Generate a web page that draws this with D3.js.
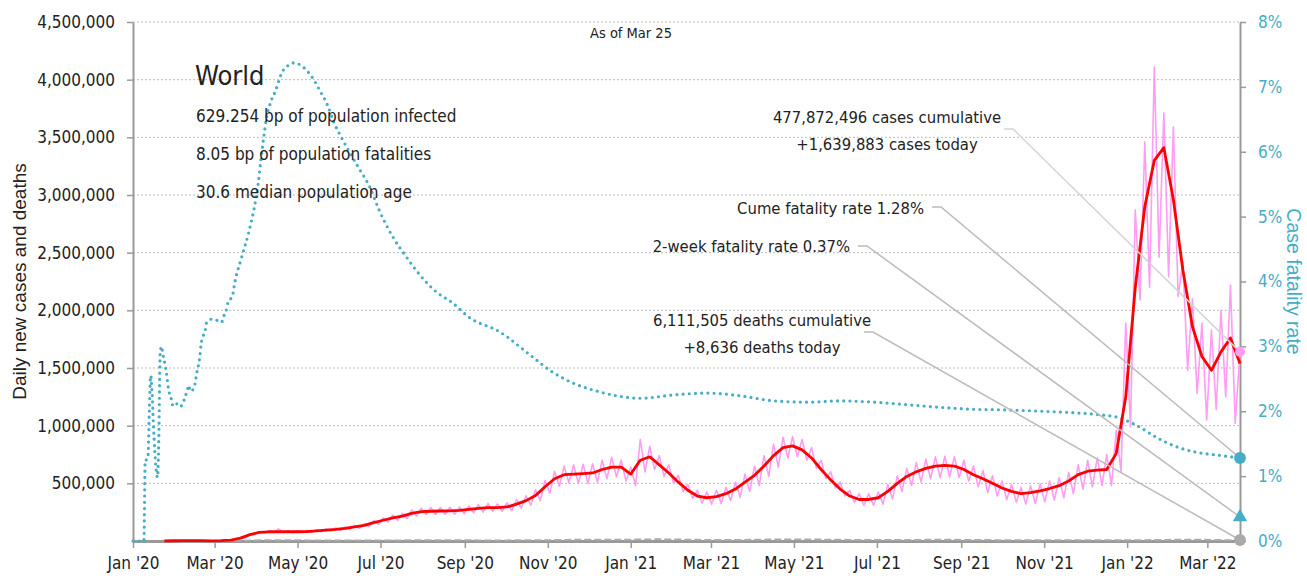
<!DOCTYPE html>
<html>
<head>
<meta charset="utf-8">
<script src="https://cdn.jsdelivr.net/npm/d3@7"></script>
<style>
  html, body { margin: 0; padding: 0; overflow: hidden; background: #fff; }
  svg { display: block; }
</style>
</head>
<body>
<div id="chart"></div>
<script>
// weekly series start on this Friday, one value every 7 days (thousands)
const weekStart = "2020-01-24";

// 7-day average of new cases
const casesAvg = [
  0.5, 2, 3, 3, 3, 1.5, 2.5, 8, 25, 55,
  75, 80, 82, 80, 80, 82, 88, 95, 100, 110,
  122, 135, 160, 180, 200, 215, 240, 255, 258, 260,
  262, 265, 275, 282, 290, 290, 295, 320, 350, 395,
  470, 540, 575, 580, 585, 590, 620, 640, 640, 580,
  700, 730, 660, 590, 510, 440, 390, 375, 385, 410,
  450, 510, 570, 650, 740, 810, 825, 790, 720, 620,
  530, 450, 390, 360, 360, 375, 430, 500, 560, 600,
  630, 650, 655, 650, 620, 575, 540, 500, 460, 430,
  410, 420, 435, 455, 480, 520, 575, 605, 615, 620,
  760, 1250, 2200, 2900, 3300, 3410, 2960, 2350, 1860, 1600,
  1480, 1640, 1760, 1540
];

// daily new cases: mid-week highs (same days as above) and weekend lows (3.5 days later)
const casesPeak = [
  0.6, 2.5, 3.5, 3, 2, 2, 3, 10, 30, 62,
  82, 88, 105, 88, 88, 92, 98, 105, 112, 122,
  135, 150, 178, 200, 225, 240, 270, 285, 290, 290,
  292, 295, 305, 315, 325, 322, 330, 360, 392, 445,
  525, 605, 650, 660, 665, 670, 700, 725, 700, 640,
  880, 820, 740, 660, 570, 490, 440, 425, 440, 465,
  510, 580, 650, 740, 840, 900, 905, 880, 810, 700,
  600, 510, 440, 410, 410, 425, 490, 565, 630, 680,
  710, 730, 735, 730, 700, 650, 610, 565, 520, 490,
  465, 478, 495, 520, 550, 595, 660, 700, 720, 750,
  960, 1890, 2870, 3460, 4110, 3710, 3590, 2420, 2100, 1890,
  1830, 2000, 2220, 1640
];
const casesTrough = [
  0.5, 2, 3, 2.5, 1.5, 1.5, 3, 10, 28, 60,
  72, 72, 75, 72, 75, 75, 80, 88, 92, 100,
  110, 125, 145, 165, 180, 195, 215, 230, 230, 232,
  232, 235, 245, 250, 258, 258, 262, 285, 310, 350,
  415, 475, 505, 500, 500, 510, 540, 555, 520, 480,
  600, 620, 560, 500, 430, 370, 330, 320, 325, 350,
  380, 430, 480, 560, 640, 720, 730, 700, 630, 540,
  460, 390, 335, 310, 310, 320, 365, 430, 480, 510,
  540, 550, 555, 550, 520, 470, 420, 390, 360, 335,
  320, 325, 340, 355, 375, 410, 450, 470, 480, 480,
  600, 990, 2090, 2200, 2460, 2290, 2120, 1480, 1280, 1050,
  1140, 1250, 1020
];

// 7-day average of new deaths
const deathsAvg = [
  0.03, 0.05, 0.08, 0.1, 0.1, 0.08, 0.1, 0.4, 1.2, 3.5,
  5.5, 6.5, 7.2, 6.8, 5.8, 5.3, 4.8, 4.6, 4.5, 4.5,
  4.8, 4.6, 4.8, 5.0, 5.3, 5.4, 5.8, 6.0, 5.9, 5.9,
  5.8, 5.6, 5.5, 5.4, 5.3, 5.3, 5.4, 5.5, 5.6, 6.0,
  6.8, 8.0, 9.2, 10.0, 10.5, 11.0, 11.5, 11.8, 11.5, 11.6,
  13.0, 14.0, 14.3, 13.5, 12.5, 11.2, 10.0, 9.3, 8.8, 8.7,
  9.0, 9.6, 10.5, 11.5, 12.5, 13.2, 13.6, 13.4, 12.8, 12.0,
  11.0, 10.2, 9.6, 8.6, 8.0, 7.8, 7.8, 8.0, 8.5, 9.2,
  9.8, 10.1, 10.2, 9.9, 9.3, 8.7, 8.2, 7.6, 7.2, 7.0,
  7.0, 7.1, 7.2, 7.1, 7.0, 7.0, 7.2, 7.2, 7.0, 6.8,
  6.5, 6.3, 6.5, 7.0, 8.0, 9.2, 10.3, 11.2, 11.0, 10.2,
  9.0, 7.8, 7.2, 8.6
];

// cumulative case fatality rate, percent
const cfrDates = [
  "2020-01-01", "2020-01-09", "2020-01-10", "2020-01-11", "2020-01-12", "2020-01-13",
  "2020-01-14", "2020-01-15", "2020-01-16", "2020-01-17", "2020-01-18", "2020-01-19",
  "2020-01-20", "2020-01-21", "2020-01-22", "2020-01-23", "2020-01-25", "2020-01-26",
  "2020-01-27", "2020-01-29", "2020-01-30", "2020-02-01", "2020-02-04", "2020-02-06",
  "2020-02-08", "2020-02-10", "2020-02-11", "2020-02-12", "2020-02-15", "2020-02-16",
  "2020-02-17", "2020-02-19", "2020-02-20", "2020-02-21", "2020-02-23", "2020-02-24",
  "2020-02-28", "2020-03-03", "2020-03-06", "2020-03-08", "2020-03-10", "2020-03-11",
  "2020-03-14", "2020-03-16", "2020-03-21", "2020-03-26", "2020-03-30", "2020-04-02",
  "2020-04-04", "2020-04-06", "2020-04-08", "2020-04-11", "2020-04-15", "2020-04-19",
  "2020-04-24", "2020-04-28", "2020-05-02", "2020-05-06", "2020-05-12", "2020-05-18",
  "2020-05-23", "2020-05-28", "2020-06-02", "2020-06-08", "2020-06-15", "2020-06-23",
  "2020-06-30", "2020-07-10", "2020-07-20", "2020-07-30", "2020-08-11", "2020-08-23",
  "2020-09-04", "2020-09-27", "2020-10-20", "2020-11-04", "2020-11-19", "2020-12-09",
  "2020-12-24", "2021-01-08", "2021-02-01", "2021-02-26", "2021-03-22", "2021-04-16",
  "2021-05-11", "2021-06-04", "2021-06-29", "2021-07-24", "2021-08-17", "2021-09-10",
  "2021-10-05", "2021-10-30", "2021-11-20", "2021-12-10", "2021-12-26", "2022-01-09",
  "2022-01-24", "2022-02-08", "2022-02-23", "2022-03-10", "2022-03-25"
];
const cfrValues = [
  0, 0, 1.25, 1.25, 1.3, 2.0,
  2.55, 2.3, 1.8, 1.4, 1.1, 0.98,
  1.6, 2.9, 3.0, 2.88, 2.67, 2.53,
  2.35, 2.2, 2.1, 2.14, 2.07, 2.09,
  2.2, 2.33, 2.4, 2.31, 2.36, 2.48,
  2.6, 2.82, 3.02, 3.13, 3.23, 3.36,
  3.42, 3.40, 3.37, 3.48, 3.59, 3.69,
  3.77, 4.0, 4.38, 4.75, 5.12, 5.5,
  5.87, 6.2, 6.5, 6.75, 6.95, 7.2,
  7.33, 7.37, 7.35, 7.29, 7.14, 6.92,
  6.72, 6.44, 6.23, 6.0, 5.75, 5.46,
  5.1, 4.69, 4.38, 4.1, 3.84, 3.67,
  3.45, 3.22, 2.85, 2.61, 2.44, 2.30,
  2.23, 2.20, 2.25, 2.28, 2.24, 2.16,
  2.14, 2.16, 2.14, 2.10, 2.06, 2.03,
  2.02, 2.0, 1.98, 1.95, 1.90, 1.77,
  1.58, 1.44, 1.36, 1.32, 1.28
];

// latest figures
const asOf = "2022-03-25";
const casesToday = 1639883;
const casesCumulative = 477872496;
const deathsToday = 8636;
const deathsCumulative = 6111505;
const cumeFatalityRate = 1.28;
const twoWeekFatalityRate = 0.37;
const infoLines = [
  "629.254 bp of population infected",
  "8.05 bp of population fatalities",
  "30.6 median population age"
];

const colors = {
  text: "#222222",
  daily: "#ff9cf4",
  avg: "#ff0000",
  cfr: "#45adc6",
  deaths: "#aaaaaa",
  axis: "#999999",
  grid: "#bdbdbd",
  leader: "#bbbbbb"
};
const condensed = "DejaVu Sans Condensed, sans-serif";
const regular = "Liberation Sans, Arial, sans-serif";

const width = 1307, height = 580;
const margin = { top: 22, right: 67, bottom: 39, left: 133 };
const innerWidth = width - margin.left - margin.right;
const innerHeight = height - margin.top - margin.bottom;

const parseDate = d3.timeParse("%Y-%m-%d");
const start = parseDate(weekStart);
const end = parseDate(asOf);
const dayMs = 864e5;
const weekDate = i => new Date(+start + i * 7 * dayMs);

const avgPoints = casesAvg.map((v, i) => ({ date: weekDate(i), value: v * 1000 }));
const deathPoints = deathsAvg.map((v, i) => ({ date: weekDate(i), value: v * 1000 }));
const dailyPoints = [];
casesPeak.forEach((v, i) => {
  dailyPoints.push({ date: weekDate(i), value: v * 1000 });
  if (i < casesTrough.length) {
    dailyPoints.push({ date: new Date(+weekDate(i) + 3.5 * dayMs), value: casesTrough[i] * 1000 });
  }
});
const cfrPoints = cfrDates.map((d, i) => ({ date: parseDate(d), value: cfrValues[i] }));

const svg = d3.select("#chart").append("svg")
  .attr("width", width)
  .attr("height", height)
  .attr("viewBox", `0 0 ${width} ${height}`)
  .attr("font-family", condensed)
  .attr("fill", colors.text);

const g = svg.append("g")
  .attr("transform", `translate(${margin.left},${margin.top})`);

const x = d3.scaleTime()
  .domain([parseDate("2020-01-01"), end])
  .range([0, innerWidth]);

const y = d3.scaleLinear()
  .domain([0, 4500000])
  .range([innerHeight, 0]);

const yRate = d3.scaleLinear()
  .domain([0, 8])
  .range([innerHeight, 0]);

const leftTicks = d3.range(500000, 4500001, 500000);

// gridlines
g.append("g")
  .selectAll("line")
  .data(leftTicks)
  .join("line")
  .attr("x1", 0)
  .attr("x2", innerWidth)
  .attr("y1", d => y(d))
  .attr("y2", d => y(d))
  .attr("stroke", colors.grid)
  .attr("stroke-width", 1)
  .attr("stroke-dasharray", "2,2");

// axes
const styleAxis = (sel, color) => {
  sel.attr("font-family", condensed).attr("font-size", 17);
  sel.select(".domain").attr("stroke", colors.axis).attr("stroke-width", 2);
  sel.selectAll(".tick line").attr("stroke", colors.axis).attr("stroke-width", 1.5);
  sel.selectAll(".tick text").attr("fill", color);
};

g.append("g")
  .attr("transform", `translate(0,${innerHeight})`)
  .call(d3.axisBottom(x)
    .ticks(d3.timeMonth.every(2))
    .tickFormat(d3.timeFormat("%b '%y"))
    .tickSize(7)
    .tickPadding(9)
    .tickSizeOuter(0))
  .call(sel => styleAxis(sel, colors.text))
  .call(sel => sel.select(".domain").attr("stroke-width", 3));

g.append("g")
  .call(d3.axisLeft(y)
    .tickValues(leftTicks)
    .tickFormat(d3.format(","))
    .tickSize(6)
    .tickPadding(12)
    .tickSizeOuter(0))
  .call(sel => styleAxis(sel, colors.text));

g.append("g")
  .attr("transform", `translate(${innerWidth},0)`)
  .call(d3.axisRight(yRate)
    .tickValues(d3.range(0, 9))
    .tickFormat(d => d + "%")
    .tickSize(6)
    .tickPadding(12)
    .tickSizeOuter(0))
  .call(sel => styleAxis(sel, colors.cfr));

// axis titles
const midY = margin.top + innerHeight / 2;
svg.append("text")
  .attr("x", 26)
  .attr("y", midY)
  .attr("transform", `rotate(-90,26,${midY})`)
  .attr("text-anchor", "middle")
  .attr("font-family", regular)
  .attr("font-size", 19)
  .text("Daily new cases and deaths");

svg.append("text")
  .attr("x", 1287)
  .attr("y", midY)
  .attr("transform", `rotate(90,1287,${midY})`)
  .attr("text-anchor", "middle")
  .attr("font-family", regular)
  .attr("font-size", 19.5)
  .attr("fill", colors.cfr)
  .text("Case fatality rate");

// lines
const line = (scale, curve) => d3.line()
  .x(d => x(d.date))
  .y(d => scale(d.value))
  .curve(curve);

g.append("path")
  .datum(deathPoints)
  .attr("fill", "none")
  .attr("stroke", colors.deaths)
  .attr("stroke-width", 2)
  .attr("stroke-dasharray", "7,3")
  .attr("d", line(y, d3.curveMonotoneX));

g.append("path")
  .datum(cfrPoints)
  .attr("fill", "none")
  .attr("stroke", colors.cfr)
  .attr("stroke-width", 3.2)
  .attr("stroke-linecap", "round")
  .attr("stroke-dasharray", "0,6.2")
  .attr("d", line(yRate, d3.curveMonotoneX));

g.append("path")
  .datum(dailyPoints)
  .attr("fill", "none")
  .attr("stroke", colors.daily)
  .attr("stroke-width", 1.6)
  .attr("stroke-linejoin", "round")
  .attr("d", line(y, d3.curveLinear));

g.append("path")
  .datum(avgPoints)
  .attr("fill", "none")
  .attr("stroke", colors.avg)
  .attr("stroke-width", 2.8)
  .attr("stroke-linejoin", "round")
  .attr("d", line(y, d3.curveLinear));

// end markers
const xEnd = x(end);
const markers = [
  { y: y(casesToday), fill: colors.daily, shape: d3.symbolCircle, size: 80 },
  { y: yRate(cumeFatalityRate), fill: colors.cfr, shape: d3.symbolCircle, size: 110 },
  { y: yRate(twoWeekFatalityRate), fill: colors.cfr, shape: d3.symbolTriangle, size: 90 },
  { y: y(deathsToday), fill: colors.deaths, shape: d3.symbolCircle, size: 110 }
];

// annotations with leader lines
const fmt = d3.format(",");
const notes = [
  { lines: [`${fmt(casesCumulative)} cases cumulative`, `+${fmt(casesToday)} cases today`],
    tx: 887, ty: 123, anchor: "middle", lx: 1004, ly: 107, target: markers[0].y, color: "#d4d4d4" },
  { lines: [`Cume fatality rate ${cumeFatalityRate.toFixed(2)}%`],
    tx: 924, ty: 214, anchor: "end", lx: 932, ly: 185, target: markers[1].y, color: colors.leader },
  { lines: [`2-week fatality rate ${twoWeekFatalityRate.toFixed(2)}%`],
    tx: 850, ty: 252, anchor: "end", lx: 858, ly: 224, target: markers[2].y, color: colors.leader },
  { lines: [`${fmt(deathsCumulative)} deaths cumulative`, `+${fmt(deathsToday)} deaths today`],
    tx: 762, ty: 326, anchor: "middle", lx: 864, ly: 310, target: markers[3].y, color: colors.leader }
];

notes.forEach(n => {
  g.append("path")
    .attr("fill", "none")
    .attr("stroke", n.color)
    .attr("stroke-width", 1.5)
    .attr("d", `M${n.lx - margin.left},${n.ly}h9L${xEnd},${n.target}`);

  n.lines.forEach((s, i) => {
    svg.append("text")
      .attr("x", n.tx)
      .attr("y", n.ty + i * 27)
      .attr("text-anchor", n.anchor)
      .attr("font-size", 16.5)
      .text(s);
  });
});

g.append("g")
  .selectAll("path")
  .data(markers)
  .join("path")
  .attr("transform", d => `translate(${xEnd},${d.y})`)
  .attr("d", d => d3.symbol(d.shape, d.size)())
  .attr("fill", d => d.fill);

// header text
svg.append("text")
  .attr("x", 631)
  .attr("y", 38)
  .attr("text-anchor", "middle")
  .attr("font-size", 14.5)
  .text(`As of ${d3.timeFormat("%b %-d")(end)}`);

svg.append("text")
  .attr("x", 195)
  .attr("y", 85)
  .attr("font-size", 27)
  .text("World");

svg.append("g")
  .selectAll("text")
  .data(infoLines)
  .join("text")
  .attr("x", 196)
  .attr("y", (d, i) => 122 + i * 38)
  .attr("font-size", 17)
  .text(d => d);
</script>
</body>
</html>
